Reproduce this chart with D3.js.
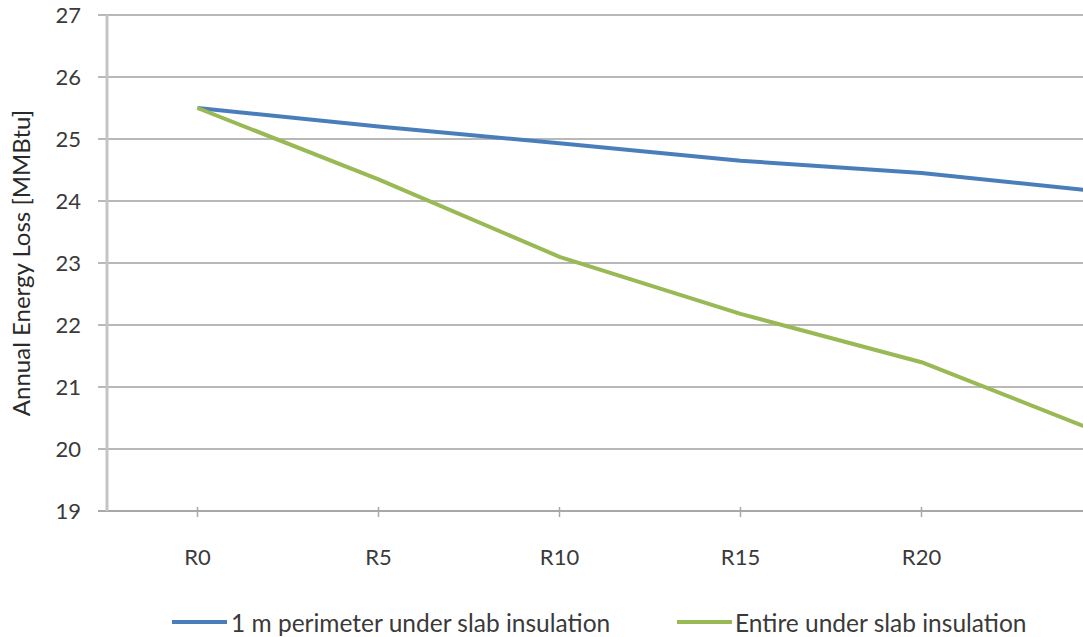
<!DOCTYPE html>
<html>
<head>
<meta charset="utf-8">
<script src="https://cdn.jsdelivr.net/npm/d3@7"></script>
<style>
  html, body { margin: 0; padding: 0; background: #fff; }
  svg { display: block; font-family: Lato, "Open Sans", sans-serif; }
</style>
</head>
<body>
<svg id="chart" width="1083" height="637"></svg>
<script>
const categories = ["R0", "R5", "R10", "R15", "R20", "R25"];
const perimeterValues = [25.5, 25.2, 24.93, 24.65, 24.45, 24.15];
const entireValues = [25.5, 24.35, 23.1, 22.18, 21.4, 20.25];
const yTicks = [19, 20, 21, 22, 23, 24, 25, 26, 27];
const seriesNames = ["1 m perimeter under slab insulation", "Entire under slab insulation"];
const seriesColors = ["#4a7ebb", "#98b954"];

(function () {
const svg = d3.select("#chart");
const plotLeft = 107, plotTop = 15, plotBottom = 511;
const band = 181;

const x = d3.scaleBand().domain(categories).range([plotLeft, plotLeft + band * categories.length]).padding(0);
const y = d3.scaleLinear().domain([19, 27]).range([plotBottom, plotTop]);

// gridlines
svg.append("g").selectAll("line").data(yTicks).join("line")
  .attr("x1", 98).attr("x2", 1083)
  .attr("y1", d => y(d)).attr("y2", d => y(d))
  .attr("stroke", d => d === 19 ? "#a8a8a8" : "#b8b8b8")
  .attr("stroke-width", 2);

// vertical axis line
svg.append("line").attr("x1", plotLeft).attr("x2", plotLeft).attr("y1", plotTop).attr("y2", plotBottom)
  .attr("stroke", "#c4c4c4").attr("stroke-width", 3);

// y tick labels
svg.append("g").selectAll("text").data(yTicks).join("text")
  .attr("x", 81).attr("y", d => y(d)).attr("dy", "0.35em")
  .attr("text-anchor", "end").attr("font-size", 22).attr("fill", "#3a3a3a")
  .text(d => d);

// x ticks
svg.append("g").selectAll("line").data(categories).join("line")
  .attr("x1", d => x(d) + x.bandwidth() / 2).attr("x2", d => x(d) + x.bandwidth() / 2)
  .attr("y1", plotBottom - 4).attr("y2", plotBottom + 6)
  .attr("stroke", "#a8a8a8").attr("stroke-width", 1.5);

svg.append("g").selectAll("text").data(categories).join("text")
  .attr("x", d => x(d) + x.bandwidth() / 2).attr("y", 557).attr("dy", "0.35em")
  .attr("text-anchor", "middle").attr("font-size", 22).attr("fill", "#3a3a3a")
  .text(d => d);

// axis title
svg.append("text")
  .attr("transform", `translate(22,${(plotTop + plotBottom) / 2}) rotate(-90)`)
  .attr("text-anchor", "middle").attr("dy", "0.35em")
  .attr("font-size", 24).attr("fill", "#2a2a2a")
  .text("Annual Energy Loss [MMBtu]");

// lines
const line = d3.line()
  .x((d, i) => x(categories[i]) + x.bandwidth() / 2)
  .y(d => y(d));

[perimeterValues, entireValues].forEach((vals, i) => {
  svg.append("path").datum(vals)
    .attr("fill", "none").attr("stroke", seriesColors[i])
    .attr("stroke-width", 4).attr("stroke-linejoin", "round")
    .attr("d", line);
});

// legend
const legendItems = [{x: 172, tx: 231}, {x: 677, tx: 735}];
legendItems.forEach((it, i) => {
  svg.append("line").attr("x1", it.x).attr("x2", it.x + 55)
    .attr("y1", 622).attr("y2", 622)
    .attr("stroke", seriesColors[i]).attr("stroke-width", 4);
  svg.append("text").attr("x", it.tx).attr("y", 632)
    .attr("font-size", 24.5).attr("fill", "#3a3a3a")
    .text(seriesNames[i]);
});
})();
</script>
</body>
</html>
